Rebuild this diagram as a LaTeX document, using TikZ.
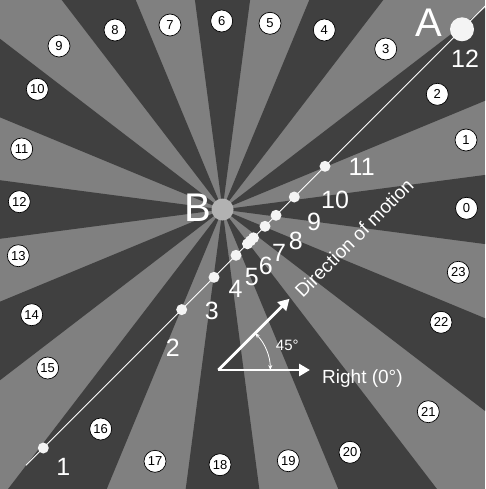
\documentclass[tikz,border=0pt]{standalone}
\usepackage{fontspec}
\setmainfont{Liberation Sans}
\usetikzlibrary{arrows.meta}
\definecolor{darkw}{RGB}{64,64,64}
\definecolor{lightw}{RGB}{128,128,128}
\definecolor{bgray}{RGB}{178,178,178}
\definecolor{dotc}{RGB}{244,244,244}
\tikzset{
 numc/.style={circle,draw=black,line width=0.7pt,fill=white,minimum size=22pt,inner sep=0pt,font=\fontsize{13}{13}\selectfont},
 dotn/.style={circle,fill=dotc,minimum size=11pt,inner sep=0pt},
 ptlab/.style={text=white,font=\fontsize{25}{25}\selectfont,inner sep=0pt},
 biglab/.style={text=white,font=\fontsize{40}{40}\selectfont,inner sep=0pt},
 arrw/.style={white,line width=2.8pt,-{Triangle[length=11pt,width=12pt]}},
 wlab/.style={text=white,inner sep=0pt},
}
\begin{document}
\begin{tikzpicture}[x=1pt,y=-1pt]
\useasboundingbox (0,0) rectangle (485,489);
\fill[lightw] (0,0) rectangle (485,489);
\coordinate (B) at (222.5,209.5);
\begin{scope}
\clip (0,0) rectangle (485,489);
\foreach \k in {0,2,...,22}{
  \fill[darkw] (B) -- ++({\k*15-7.5}:800) arc[start angle={\k*15-7.5}, end angle={\k*15+7.5}, radius=800] -- cycle;
}
\end{scope}
\node[circle,fill=bgray,minimum size=22pt,inner sep=0pt] (Bc) at (B) {};
% numbered circles
\foreach \n/\x/\y in {0/466.5/208.3,1/466/140,2/437.3/94.3,3/385.7/49,4/324.3/30,5/270/23.3,6/221.7/21,7/170/25,8/115/30,9/59/46,10/37.3/89.3,11/21.7/149,12/19.3/201.7,13/18.3/255.7,14/31.7/314.7,15/47.7/368,16/100.7/429,17/155/461.3,18/220/464.7,19/288.3/460.7,20/350/452.3,21/428.3/411.7,22/441/322.3,23/458.3/272.3}{
  \node[numc] (c\n) at (\x,\y) {\n};
}
% motion line
\coordinate (L1) at (26,465.3);
\coordinate (L2) at (487,4.3);
\draw[white,line width=0.8pt] (L1) -- (L2);
\foreach \n/\x in {1/43.3,2/181.7,3/214,4/236,5/247.5,6/250.5,7/253.5,8/265,9/276,10/294.3,11/325}{
  \node[dotn] (p\n) at (\x,{491.3-\x}) {};
}
\node[circle,fill=dotc,minimum size=24pt,inner sep=0pt] (p12) at (462,29.3) {};
% point labels
\foreach \n/\x/\y in {1/63.3/466.7,2/172.7/347.3,3/211.7/311,4/235.5/289,5/251.7/277.5,6/265.8/265.8,7/279/252.5,8/295.8/240.8,9/314/221.7,10/335/200,11/361.7/166.7,12/465/58.3}{
  \node[ptlab] (t\n) at (\x,\y) {\n};
}
\node[biglab] (A) at (429,22.5) {A};
\node[biglab] (Blab) at (197.5,207.5) {B};
% arrows
\coordinate (O) at (218.3,370);
\coordinate (Rt) at (310,370);
\coordinate (Dt) at (289.5,298.8);
\draw[arrw] (O) -- (Rt);
\draw[arrw] (O) -- (Dt);
\coordinate (a0) at (270.3,370);
\draw[white,line width=0.8pt,{Stealth[length=5pt,width=4pt]}-{Stealth[length=5pt,width=4pt]}] (a0) arc[start angle=0,end angle=-45,radius=52];
\node[wlab,font=\fontsize{15}{15}\selectfont] (ang) at (287.3,345) {45°};
\node[wlab,anchor=base west,font=\fontsize{19}{19}\selectfont] (right) at (322,383) {Right (0°)};
\node[wlab,rotate=45,font=\fontsize{19}{19}\selectfont] (dir) at (354,238) {Direction of motion};
\end{tikzpicture}
\end{document}
